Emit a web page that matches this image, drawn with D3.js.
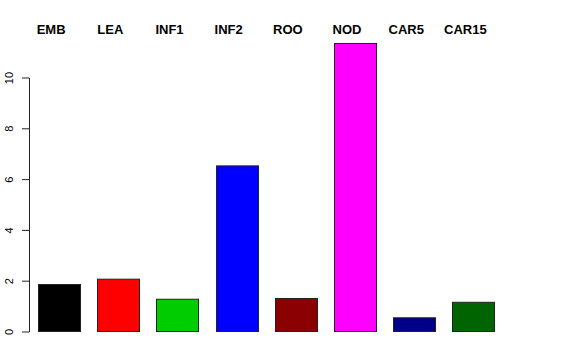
<!DOCTYPE html>
<html>
<head>
<meta charset="utf-8">
<script src="https://cdn.jsdelivr.net/npm/d3@7"></script>
<style>
  body { margin: 0; background: #fff; }
  svg { display: block; }
</style>
</head>
<body>
<svg id="chart" width="576" height="360"></svg>
<script>
const samples = ['EMB', 'LEA', 'INF1', 'INF2', 'ROO', 'NOD', 'CAR5', 'CAR15'];
const values = [1.85, 2.06, 1.27, 6.52, 1.30, 11.34, 0.54, 1.15];
const barColors = ['#000000', '#ff0000', '#00cd00', '#0000ff', '#8b0000', '#ff00ff', '#00008b', '#006400'];
const yTicks = [0, 2, 4, 6, 8, 10];

let svg = d3.select('#chart');

let x = d3.scaleBand()
    .domain(samples)
    .range([29.5, 503])
    .paddingInner(0.29)
    .paddingOuter(0.145);

let y = d3.scaleLinear()
    .domain([0, 10])
    .range([331.5, 77.5]);

// bars
svg.selectAll('rect.bar')
    .data(samples)
    .enter()
    .append('rect')
    .attr('class', 'bar')
    .attr('x', d => Math.round(x(d)) + 0.5)
    .attr('y', (d, i) => y(values[i]))
    .attr('width', x.bandwidth())
    .attr('height', (d, i) => y(0) - y(values[i]))
    .attr('fill', (d, i) => barColors[i])
    .attr('stroke', '#222')
    .attr('stroke-width', 1);

// labels across the top
svg.selectAll('text.lab')
    .data(samples)
    .enter()
    .append('text')
    .attr('class', 'lab')
    .attr('x', d => x(d) + x.bandwidth() / 2 - 8)
    .attr('y', 34)
    .attr('text-anchor', 'middle')
    .style('font-family', '"Liberation Sans", Arial, sans-serif')
    .style('font-weight', 'bold')
    .style('font-size', '13px')
    .text(d => d);

// y axis
let yAxis = d3.axisLeft(y)
    .tickValues(yTicks)
    .tickSize(7)
    .tickPadding(0)
    .tickSizeOuter(0);

let g = svg.append('g')
    .attr('transform', 'translate(29,0)')
    .call(yAxis);

g.select('.domain').attr('stroke', '#222');
g.selectAll('.tick line').attr('stroke', '#222');
g.selectAll('.tick text')
    .attr('x', null)
    .attr('dy', null)
    .attr('transform', 'translate(-16,0) rotate(-90)')
    .attr('text-anchor', 'middle')
    .style('font-family', '"Liberation Sans", Arial, sans-serif')
    .style('font-size', '11px')
    .attr('fill', '#000');
</script>
</body>
</html>
